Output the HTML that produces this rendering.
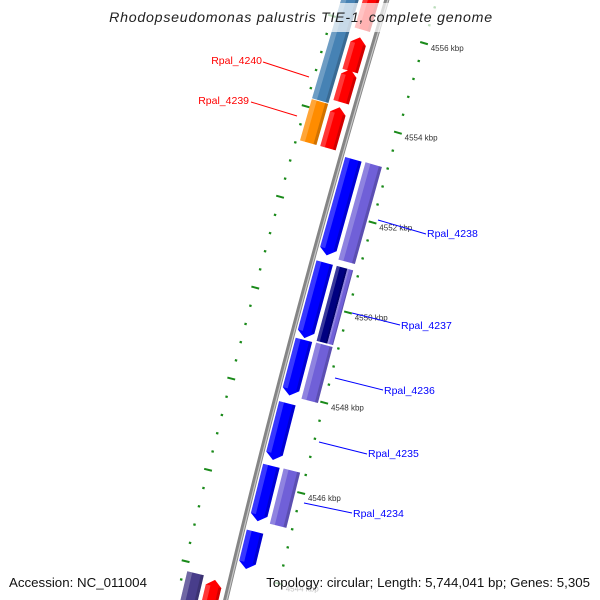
<!DOCTYPE html>
<html><head><meta charset="utf-8"><style>
html,body{margin:0;padding:0;background:#fff;width:600px;height:600px;overflow:hidden;}
svg{display:block;font-family:"Liberation Sans","DejaVu Sans",sans-serif;overflow:hidden;}
</style></head><body>
<svg id="map" width="600" height="600" viewBox="0 0 600 600" xmlns="http://www.w3.org/2000/svg">
<g id="ticks"></g>
<path id="backbone" fill="none" stroke="#858585" stroke-width="5"/>
<path id="backbone-hi" fill="none" stroke="#c8c8c8" stroke-width="1.2"/>
<g id="genes"></g>
<g id="tickLabels" font-size="8" fill="#333"></g>
<g font-size="10.5">
  <line x1="263" y1="62" x2="309" y2="77" stroke="#f00" stroke-width="1"/>
  <text x="262" y="64" fill="#f00" text-anchor="end">Rpal_4240</text>
  <line x1="251" y1="102" x2="297" y2="116" stroke="#f00" stroke-width="1"/>
  <text x="249" y="104" fill="#f00" text-anchor="end">Rpal_4239</text>
  <line x1="378" y1="220" x2="426" y2="234" stroke="#00f" stroke-width="1"/>
  <text x="427" y="237" fill="#00f">Rpal_4238</text>
  <line x1="352" y1="313" x2="400" y2="325" stroke="#00f" stroke-width="1"/>
  <text x="401" y="329" fill="#00f">Rpal_4237</text>
  <line x1="335" y1="378" x2="383" y2="390" stroke="#00f" stroke-width="1"/>
  <text x="384" y="394" fill="#00f">Rpal_4236</text>
  <line x1="319" y1="442" x2="367" y2="454" stroke="#00f" stroke-width="1"/>
  <text x="368" y="457" fill="#00f">Rpal_4235</text>
  <line x1="304" y1="503" x2="352" y2="513" stroke="#00f" stroke-width="1"/>
  <text x="353" y="517" fill="#00f">Rpal_4234</text>
</g>
<rect x="108" y="3" width="390" height="29" fill="#fff" fill-opacity="0.7"/>
<text x="301" y="22" font-size="14.2" font-style="italic" fill="#222" text-anchor="middle" letter-spacing="0.75">Rhodopseudomonas palustris TIE-1, complete genome</text>
<rect x="4" y="572" width="148" height="28" fill="#fff" fill-opacity="0.7"/>
<rect x="258" y="572" width="338" height="28" fill="#fff" fill-opacity="0.7"/>
<text x="9" y="587" font-size="13.3" fill="#111">Accession: NC_011004</text>
<text x="590" y="587" font-size="13.3" fill="#111" text-anchor="end">Topology: circular; Length: 5,744,041 bp; Genes: 5,305</text>
</svg>
<script>
// gene data (kbp)
const geneStart = [4555.9, 4554.98, 4554.29, 4553.27, 4554.2, 4553.27, 4551.06, 4551.04, 4549.23, 4549.24, 4549.24, 4547.96, 4547.96, 4546.54, 4545.19, 4545.2, 4544.14, 4542.6, 4542.6];
const geneEnd   = [4557.2, 4555.73, 4555.02, 4554.18, 4556.9, 4554.18, 4553.19, 4553.2, 4550.9, 4550.9, 4550.9, 4549.19, 4549.2, 4547.79, 4546.41, 4546.42, 4544.96, 4543.8, 4543.76];
const geneTrack = ['red','red','red','red','steel','steel','blue','lav','blue','navy','lavthin','blue','lav','blue','blue','lav','blue','steel','red'];
const geneColor = ['#ff0000','#ff0000','#ff0000','#ff0000','#4682b4','#ff8c00','#0000ff','#7060d8','#0000ff','#000080','#7060d8','#0000ff','#7060d8','#0000ff','#0000ff','#7060d8','#0000ff','#483d8b','#ff0000'];
const geneArrow = ['up','up','up','up','none','none','down','none','down','none','none','down','none','down','down','none','down','none','up'];
const majorTicks = [4544, 4546, 4548, 4550, 4552, 4554, 4556];
const tickLabels = ['4544 kbp','4546 kbp','4548 kbp','4550 kbp','4552 kbp','4554 kbp','4556 kbp'];

const NS = 'http://www.w3.org/2000/svg';
const CX = 10800, CY = 3118, R0 = 10870, PHI0 = -Math.PI + 0.2881, K = 0.00431;
const TRACKS = {red:[-23,-7], steel:[-44,-27], blue:[4,21], lav:[25,42], navy:[25,36], lavthin:[36,42]};
function P(kbp, off){
  const phi = PHI0 + (kbp - 4556) * K;
  const r = R0 - off;
  return [CX + r*Math.cos(phi), CY + r*Math.sin(phi)];
}
function pts(list){ return list.map(p => p[0].toFixed(2)+','+p[1].toFixed(2)).join(' '); }

function arcPath(off){
  let d = '';
  for (let k = 4542.6; k <= 4557.4; k += 0.2){
    const p = P(k, off);
    d += (d ? 'L' : 'M') + p[0].toFixed(2) + ',' + p[1].toFixed(2);
  }
  return d;
}
document.getElementById('backbone').setAttribute('d', arcPath(0));
document.getElementById('backbone-hi').setAttribute('d', arcPath(1));

const tg = document.getElementById('ticks');
const tl = document.getElementById('tickLabels');
for (let i = 0; i <= 37; i++){
  const k = 4542.4 + i * 0.4;
  const major = Math.abs(k/2 - Math.round(k/2)) < 0.01;
  [48, -48].forEach(off => {
    const a = P(k, off - (major ? 4 : 1.2));
    const b = P(k, off + (major ? 4 : 1.2));
    if (a[1] > 598 || b[1] > 598 || a[1] < 0) return;
    const ln = document.createElementNS(NS, 'line');
    
    
    ln.setAttribute('x1', a[0]); ln.setAttribute('y1', a[1]);
    ln.setAttribute('x2', b[0]); ln.setAttribute('y2', b[1]);
    ln.setAttribute('stroke', '#1a8a1a');
    ln.setAttribute('stroke-width', major ? 2 : 2.2);
    tg.appendChild(ln);
  });
}
majorTicks.forEach((k, i) => {
  const p = P(k, 55);
  const t = document.createElementNS(NS, 'text');
  
  
  t.setAttribute('x', p[0]); t.setAttribute('y', Math.min(p[1] + 6, 596));
  t.textContent = tickLabels[i];
  tl.appendChild(t);
});

const gg = document.getElementById('genes');
const HEAD = 0.14;
geneStart.forEach((s, i) => {
  const e = geneEnd[i];
  const [o1, o2] = TRACKS[geneTrack[i]];
  const mid = (o1 + o2) / 2;
  let poly;
  if (geneArrow[i] === 'down'){
    poly = [P(s+HEAD,o1), P(e,o1), P(e,o2), P(s+HEAD,o2), P(s,mid)];
  } else if (geneArrow[i] === 'up'){
    poly = [P(s,o1), P(e-HEAD,o1), P(e,mid), P(e-HEAD,o2), P(s,o2)];
  } else {
    poly = [P(s,o1), P(e,o1), P(e,o2), P(s,o2)];
  }
  const pg = document.createElementNS(NS, 'polygon');
  
  
  pg.setAttribute('points', pts(poly));
  pg.setAttribute('fill', geneColor[i]);
  gg.appendChild(pg);
  const w = o2 - o1;
  const hs = s + (geneArrow[i]==='down' ? HEAD : 0), he = e - (geneArrow[i]==='up' ? HEAD : 0);
  const hl = document.createElementNS(NS, 'polygon');
  
  
  hl.setAttribute('points', pts([P(hs,o1), P(he,o1), P(he,o1+w*0.3), P(hs,o1+w*0.3)]));
  hl.setAttribute('fill', '#fff');
  hl.setAttribute('fill-opacity', '0.22');
  gg.appendChild(hl);
  const sh = document.createElementNS(NS, 'polygon');
  
  
  sh.setAttribute('points', pts([P(hs,o2-w*0.18), P(he,o2-w*0.18), P(he,o2), P(hs,o2)]));
  sh.setAttribute('fill', '#000');
  sh.setAttribute('fill-opacity', '0.18');
  gg.appendChild(sh);
});
</script>
</body></html>
